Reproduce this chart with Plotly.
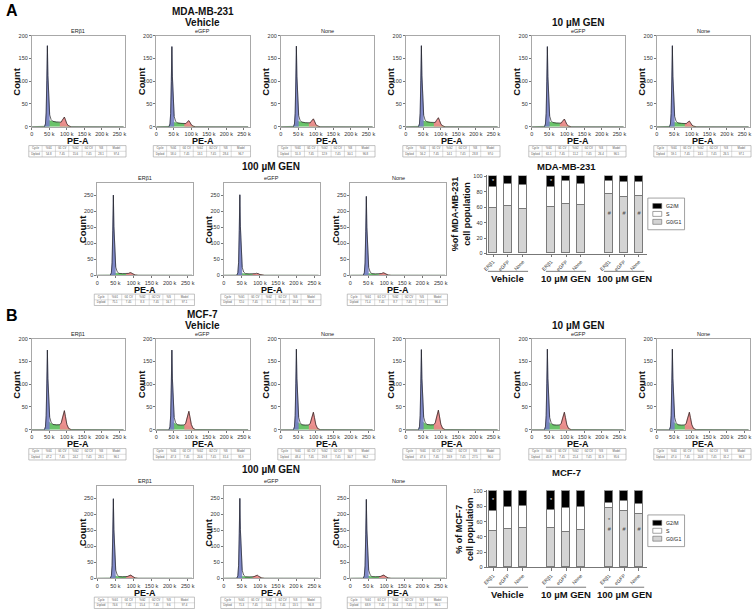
import plotly.graph_objects as go

W, H = 754, 612
FONT = "Liberation Sans, Arial, sans-serif"

# ---------------- data ----------------
# PE-A channel grid (thousands) shared by the histogram read-outs
PE_K = [0, 36, 39, 41, 43, 44.5, 46, 48, 51, 55, 60, 70, 80, 84, 87, 90, 93, 96, 100, 105, 112, 262]
G1_PROFILE = [0, 0, 0.03, 0.15, 0.55, 1.0, 0.6, 0.25, 0.08, 0.02, 0, 0, 0, 0, 0, 0, 0, 0, 0, 0, 0, 0]
S_PROFILE_MDA = [0, 0, 0.1, 0.4, 0.8, 1, 1, 1, 0.95, 0.9, 0.85, 0.75, 0.65, 0.6, 0.55, 0.5, 0.45, 0.35, 0.2, 0.08, 0.02, 0]
S_PROFILE_MCF = [0, 0, 0.1, 0.4, 0.8, 1, 1, 0.95, 0.85, 0.75, 0.65, 0.6, 0.62, 0.62, 0.6, 0.55, 0.5, 0.35, 0.2, 0.08, 0.02, 0]
G2_PROFILE = [0, 0, 0, 0, 0, 0, 0, 0, 0, 0, 0, 0, 0, 0.12, 0.45, 0.85, 1.0, 0.7, 0.25, 0.05, 0, 0]
PE_TICKS = ["0", "50 k", "100 k", "150 k", "200 k", "250 k"]

SAMPLES = ["ERβ1", "eGFP", "None"]
GROUPS = ["Vehicle", "10 µM GEN", "100 µM GEN"]
ROW1_LABELS = ["ERβ1", "eGFP", "None", "", "eGFP", "None"]

# histogram peak read-outs (Vehicle x3, 10 µM x3, 100 µM x3)
MDA_G1_PEAK = [164, 166, 165, 165, 165, 168, 243, 245, 240]
MDA_S_LEVEL = [14, 10, 12, 13, 11, 10, 7, 6, 6]
MDA_G2_PEAK = [15, 9, 12, 14, 12, 8, 5, 4, 5]
MCF_G1_PEAK = [157, 158, 160, 158, 160, 160, 240, 242, 238]
MCF_S_LEVEL = [18, 17, 17, 18, 17, 17, 8, 7, 8]
MCF_G2_PEAK = [33, 32, 30, 34, 30, 30, 6, 6, 6]

TABLE_HEADER = ["Cycle", "%G1", "G1 CV", "%G2", "G2 CV", "%S", "Model"]
MDA_TABLE = [[54.8, 15.6, 28.1, 97.4], [58.0, 13.1, 28.4, 96.7], [55.3, 12.9, 30.1, 96.8],
             [56.2, 14.1, 28.8, 97.0], [61.1, 11.2, 26.4, 96.5], [59.1, 13.5, 26.5, 97.1],
             [75.1, 8.3, 16.7, 97.1], [72.0, 8.1, 18.4, 95.8], [71.4, 8.7, 17.5, 96.4]]
MCF_TABLE = [[47.2, 24.2, 28.1, 96.1], [47.3, 20.6, 31.4, 95.9], [48.4, 19.8, 30.7, 96.2],
             [47.6, 23.9, 27.5, 96.0], [45.9, 21.4, 31.9, 95.6], [47.0, 20.8, 31.2, 96.3],
             [74.6, 15.4, 9.6, 97.4], [71.3, 14.1, 13.5, 96.8], [68.9, 16.4, 13.7, 96.5]]

# stacked-bar percentages (Vehicle ERβ1/eGFP/None, 10 µM ..., 100 µM ...)
MDA_G0G1 = [58, 61, 57, 59, 64, 62, 76, 73, 74]
MDA_S = [27, 28, 31, 27, 29, 28, 17, 19, 18]
MDA_G2M = [15, 11, 12, 14, 7, 10, 7, 8, 8]
MCF_G0G1 = [47, 50, 51, 51, 46, 48, 78, 74, 70]
MCF_S = [27, 29, 29, 24, 32, 31, 6, 12, 13]
MCF_G2M = [26, 21, 20, 25, 22, 21, 16, 14, 17]

MDA_MARK_BAR = [0, 3, 6, 7, 8]
MDA_MARK_Y = [93, 93, 52, 52, 52]
MDA_MARK_TXT = ["*", "*", "#", "#", "#"]
MCF_MARK_BAR = [0, 3, 6, 6, 7, 8]
MCF_MARK_Y = [88, 88, 61, 49, 49, 49]
MCF_MARK_TXT = ["*", "*", "*", "#", "#", "#"]

# ---------------- layout helpers ----------------
fig = go.Figure()
layout = {}
shapes = []
annotations = []
OV = 21
tab_x, tab_y, tab_t = [], [], []


def ann(x, y, text, size, bold=False, color="#111", angle=0, xanchor="center", yanchor="middle", xref="x21"):
    annotations.append(dict(x=x, y=y, xref=xref, yref="y21",
                            text=f"<b>{text}</b>" if bold else text, showarrow=False,
                            font=dict(size=size, color=color, family=FONT), textangle=angle,
                            xanchor=xanchor, yanchor=yanchor, borderpad=0))


def rect(x0, y0, x1, y1, line="#999", lw=0.5, fill=None):
    shapes.append(dict(type="rect", xref="x21", yref="y21", x0=x0, y0=y0, x1=x1, y1=y1,
                       line=dict(color=line, width=lw), fillcolor=fill or "rgba(0,0,0,0)", layer="above"))


def line(x0, y0, x1, y1, color="#aaa", lw=0.4, xref="x21"):
    shapes.append(dict(type="line", xref=xref, yref="y21", x0=x0, y0=y0, x1=x1, y1=y1,
                       line=dict(color=color, width=lw), layer="above"))


tickfont = dict(size=5.5, color="#333", family=FONT)
hist_style = dict(showgrid=False, zeroline=False, showline=True, mirror=True, linecolor="#a8a8a8",
                  linewidth=0.8, ticks="outside", ticklen=2, tickwidth=0.6, tickcolor="#777",
                  tickfont=tickfont, fixedrange=True)

COLW = [1, 1, 1, 1, 1, 0.85, 1.45]
XS = [v * 1000 for v in PE_K]


def add_hist(n, left, top, w, h, ymax, ytv, g1, sl, g2, sprof, label, tvals):
    layout[f"xaxis{n}"] = dict(domain=[left / W, (left + w) / W], anchor=f"y{n}", range=[0, 266000],
                               tickvals=[i * 50000 for i in range(6)], ticktext=PE_TICKS, **hist_style)
    layout[f"yaxis{n}"] = dict(domain=[1 - (top + h) / H, 1 - top / H], anchor=f"x{n}", range=[0, ymax],
                               tickvals=ytv, **hist_style)
    s_curve = [sl * p for p in sprof]
    g1_curve = [g1 * p + s for p, s in zip(G1_PROFILE, s_curve)]
    g2_curve = [g2 * p + s for p, s in zip(G2_PROFILE, s_curve)]
    total = [g1 * a + s + g2 * c for a, s, c in zip(G1_PROFILE, s_curve, G2_PROFILE)]
    ax = dict(xaxis=f"x{n}", yaxis=f"y{n}", showlegend=False, hoverinfo="skip", mode="lines")
    fig.add_trace(go.Scatter(x=XS, y=s_curve, fill="tozeroy", fillcolor="rgba(98,192,98,0.95)",
                             line=dict(color="#4aa84a", width=0.4), **ax))
    fig.add_trace(go.Scatter(x=XS[1:9], y=g1_curve[1:9], fill="tozeroy", fillcolor="rgba(118,128,196,0.92)",
                             line=dict(color="#5a66b0", width=0.5), **ax))
    fig.add_trace(go.Scatter(x=XS[12:21], y=g2_curve[12:21], fill="tozeroy", fillcolor="rgba(236,138,138,0.95)",
                             line=dict(color="#d46a6a", width=0.5), **ax))
    fig.add_trace(go.Scatter(x=XS, y=total, line=dict(color="#222", width=0.7), **ax))
    cx = left + w / 2
    bottom = top + h
    if label:
        ann(cx, top - 5, label, 5.5, color="#222")
    ann(left - 15.5, top + h / 2, "Count", 9.5, bold=True, angle=-90)
    ann(cx, bottom + 14.5, "PE-A", 9, bold=True)
    # table
    x0, x1 = left - 3, left + w + 1
    y0, y1 = bottom + 19, bottom + 30.5
    rect(x0, y0, x1, y1, line="#9a9a9a", lw=0.6)
    ym = (y0 + y1) / 2
    line(x0, ym, x1, ym)
    tot = sum(COLW)
    cells = ["Diploid", f"{tvals[0]:.1f}", "7.45", f"{tvals[1]:.1f}", "7.45", f"{tvals[2]:.1f}", f"{tvals[3]:.1f}"]
    xc = x0
    for ci, cw in enumerate(COLW):
        wpx = (x1 - x0) * cw / tot
        if ci > 0:
            line(xc, y0, xc, y1)
        tab_x.extend([xc + wpx / 2, xc + wpx / 2])
        tab_y.extend([(y0 + ym) / 2, (ym + y1) / 2])
        tab_t.extend([TABLE_HEADER[ci], cells[ci]])
        xc += wpx


BAR_X = [g * 3.9 + i for g in range(3) for i in range(3)]

PANELS = [
    dict(letter="A", name="MDA-MB-231", dy=0, g1=MDA_G1_PEAK, s=MDA_S_LEVEL, g2=MDA_G2_PEAK, sprof=S_PROFILE_MDA,
         table=MDA_TABLE, bars=(MDA_G0G1, MDA_S, MDA_G2M), marks=(MDA_MARK_BAR, MDA_MARK_Y, MDA_MARK_TXT),
         btop=175, bbot=253, gly=278, gline=271, leg=197, btitle=165, ytitle=(460, 213),
         ytext="%of MDA-MB-231<br>cell population"),
    dict(letter="B", name="MCF-7", dy=306, g1=MCF_G1_PEAK, s=MCF_S_LEVEL, g2=MCF_G2_PEAK, sprof=S_PROFILE_MCF,
         table=MCF_TABLE, bars=(MCF_G0G1, MCF_S, MCF_G2M), marks=(MCF_MARK_BAR, MCF_MARK_Y, MCF_MARK_TXT),
         btop=493, bbot=570, gly=597, gline=590, leg=517, btitle=474, ytitle=(463, 531),
         ytext="% of MCF-7<br>cell population"),
]

ROW1_LEFT = [27, 152.5, 278, 404, 531, 657]
ROW2_LEFT = [93, 220.5, 348]
PHASE_COLORS = ["#d4d4d4", "#ffffff", "#000000"]
PHASE_NAMES = ["G0/G1", "S", "G2/M"]

n = 1
for pi, P in enumerate(PANELS):
    dy = P["dy"]
    ann(7, 8 + dy + (2 if pi else 0), P["letter"], 16, bold=True, color="#000")
    ann(199.5, 9 + dy, P["name"], 10, bold=True)
    ann(199.5, 19.5 + dy, GROUPS[0], 10, bold=True)
    ann(578, 19.5 + dy, GROUPS[1], 10, bold=True)
    ann(268.5, 165 + dy, GROUPS[2], 10, bold=True)
    for k in range(6):
        add_hist(n, ROW1_LEFT[k], 33 + dy, 94, 92, 200, [0, 50, 100, 150, 200],
                 P["g1"][k], P["s"][k], P["g2"][k], P["sprof"], ROW1_LABELS[k], P["table"][k])
        n += 1
    for k in range(3):
        add_hist(n, ROW2_LEFT[k], 182 + dy, 97, 93, 287, [0, 50, 100, 150, 200, 250],
                 P["g1"][6 + k], P["s"][6 + k], P["g2"][6 + k], P["sprof"], SAMPLES[k], P["table"][6 + k])
        n += 1

for pi, P in enumerate(PANELS):
    bn = 19 + pi
    xa, ya = f"x{bn}", f"y{bn}"
    axstyle = dict(showgrid=False, zeroline=False, showline=True, linecolor="#777", linewidth=1,
                   ticks="outside", ticklen=2.5, tickwidth=0.8, tickcolor="#777", tickfont=tickfont,
                   fixedrange=True)
    layout[f"xaxis{bn}"] = dict(domain=[486 / W, 647 / W], anchor=ya, range=[-0.4, 10.33], tickvals=BAR_X,
                                ticktext=SAMPLES * 3, tickangle=-45,
                                **{**axstyle, "tickfont": dict(size=5, color="#333", family=FONT)})
    layout[f"yaxis{bn}"] = dict(domain=[1 - P["bbot"] / H, 1 - (P["btop"] - 0.8) / H], anchor=xa, range=[0, 101],
                                tickvals=[0, 20, 40, 60, 80, 100], **axstyle)
    for vals, col, nm in zip(P["bars"], PHASE_COLORS, PHASE_NAMES):
        fig.add_trace(go.Bar(x=BAR_X, y=vals, width=0.55,
                             marker=dict(color=col, line=dict(color="#7a7a7a", width=1.4)),
                             name=nm, showlegend=False, xaxis=xa, yaxis=ya, hoverinfo="skip"))
    mb, my, mt = P["marks"]
    g0, s_, g2 = P["bars"]
    mcol = ["#ffffff" if y > g0[b] + s_[b] else "#444" for b, y in zip(mb, my)]
    fig.add_trace(go.Scatter(x=[BAR_X[b] for b in mb], y=my, text=mt, mode="text",
                             textfont=dict(size=5.5, color=mcol, family=FONT), xaxis=xa, yaxis=ya,
                             showlegend=False, hoverinfo="skip"))
    ann(566, P["btitle"], P["name"], 9.5, bold=True)
    ann(P["ytitle"][0], P["ytitle"][1], P["ytext"], 9, bold=True, angle=-90)
    for g in range(3):
        xs = BAR_X[g * 3:(g + 1) * 3]
        line(xs[0] - 0.35, P["gline"], xs[-1] + 0.35, P["gline"], color="#555", lw=0.8, xref=xa)
        ann(xs[1], P["gly"], GROUPS[g], 9.5, bold=True, xref=xa)
    # legend
    ly = P["leg"]
    rect(648, ly, 685, ly + 32, line="#8a8a8a", lw=0.8, fill="#ffffff")
    for i, (nm, col) in enumerate(zip(PHASE_NAMES[::-1], PHASE_COLORS[::-1])):
        cy = ly + 8 + i * 8
        rect(653, cy - 2.5, 662, cy + 2.5, line="#666", lw=0.6, fill=col)
        ann(665, cy, nm, 5.2, color="#222", xanchor="left")

fig.add_trace(go.Scatter(x=tab_x, y=tab_y, text=tab_t, mode="text",
                         textfont=dict(size=2.8, color="#555", family=FONT),
                         xaxis=f"x{OV}", yaxis=f"y{OV}", showlegend=False, hoverinfo="skip"))
layout[f"xaxis{OV}"] = dict(domain=[0, 1], range=[0, W], visible=False, anchor=f"y{OV}", fixedrange=True)
layout[f"yaxis{OV}"] = dict(domain=[0, 1], range=[H, 0], visible=False, anchor=f"x{OV}", fixedrange=True)

fig.update_layout(width=W, height=H, margin=dict(l=0, r=0, t=0, b=0), paper_bgcolor="white",
                  plot_bgcolor="rgba(0,0,0,0)", barmode="stack", bargap=0, showlegend=False,
                  font=dict(family=FONT), shapes=shapes, annotations=annotations, **layout)

fig.write_html("out.html", config={"displayModeBar": False},
               post_script="document.body.style.margin='0';")
